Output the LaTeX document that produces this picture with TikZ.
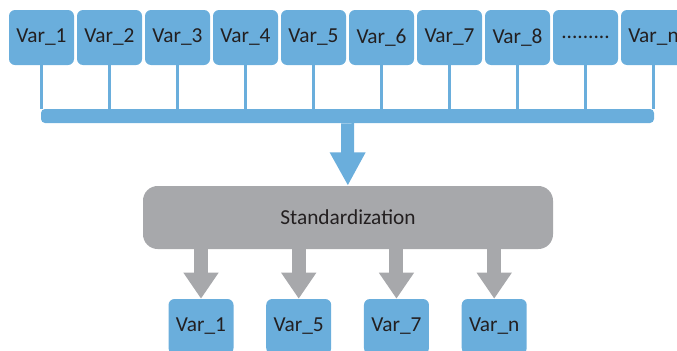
\documentclass[tikz,border=0pt]{standalone}
\usepackage{tikz}
\usetikzlibrary{arrows.meta,positioning}
\usepackage{fontspec}
\setmainfont{Carlito}
\usepackage{xcolor}
\definecolor{varblue}{RGB}{106,174,220}
\definecolor{stdgray}{RGB}{167,168,171}
\definecolor{txtgray}{RGB}{35,31,32}

\begin{document}
\begin{tikzpicture}[x=0.75pt,y=-0.75pt,node distance=51pt,on grid,
		varbox/.style={fill=varblue,rounded corners=4.5pt,minimum width=48.75pt,minimum height=41.25pt,inner sep=0pt,text=txtgray,font=\fontsize{16}{19}\selectfont}]
		\useasboundingbox (0,0) rectangle (677,350);
		\clip (0,0) rectangle (677,350);
		  \node[varbox]          (1) at (41.5,37.5)   {Var\_1};
		  \node[varbox]          (2) [right =of 1]    {Var\_2};
		  \node[varbox]          (3) [right =of 2]    {Var\_3};
		  \node[varbox]          (4) [right =of 3]    {Var\_4};
		  \node[varbox]          (5) [right =of 4]    {Var\_5};
		  \node[varbox]          (6) [right =of 5]    {Var\_6};
		  \node[varbox]          (7) [right =of 6]    {Var\_7};
		  \node[varbox]          (8) [right =of 7]    {Var\_8};
		  \node[varbox]          (9) [right =of 8]    {.........};
		  \node[varbox]          (n) [right =of 9]    {Var\_n};
		  \node[fill=varblue,rounded corners=3pt,minimum width=459.75pt,minimum height=10.5pt,inner sep=0pt] (bar) at (347.5,116) {};
		  \node[fill=stdgray,rounded corners=11pt,minimum width=307.5pt,minimum height=47.25pt,text=txtgray,font=\fontsize{16}{19}\selectfont] (std) at (348,217.5) {Standardization};
		  \node[varbox]          (o1) at (201,326.5)   {Var\_1};
		  \node[varbox]          (o5) [right =73.3pt of o1]    {Var\_5};
		  \node[varbox]          (o7) [right =73.3pt of o5]    {Var\_7};
		  \node[varbox]          (on) [right =73.3pt of o7]    {Var\_n};

		\tikzset{mystyle/.style={-,draw=varblue,line width=2.25pt}}
		\path (1)     edge [mystyle]    (1 |- bar.north)
			  (2)     edge [mystyle]    (2 |- bar.north)
			  (3)     edge [mystyle]    (3 |- bar.north)
			  (4)     edge [mystyle]    (4 |- bar.north)
			  (5)     edge [mystyle]    (5 |- bar.north)
			  (6)     edge [mystyle]    (6 |- bar.north)
			  (7)     edge [mystyle]    (7 |- bar.north)
			  (8)     edge [mystyle]    (8 |- bar.north)
			  (9)     edge [mystyle]    (9 |- bar.north)
			  (n)     edge [mystyle]    (n |- bar.north);

		\tikzset{mystyle/.style={-{Triangle[length=25pt,width=25pt]},draw=varblue,fill=varblue,line width=9.75pt}}
			\path (bar)     edge [mystyle]   (std);
		\tikzset{mystyle/.style={-{Triangle[length=19.5pt,width=25pt]},draw=stdgray,fill=stdgray,line width=10.5pt}}
			\path (std.south -| o1)     edge [mystyle]   (o1)
				  (std.south -| o5)     edge [mystyle]   (o5)
				  (std.south -| o7)     edge [mystyle]   (o7)
				  (std.south -| on)     edge [mystyle]   (on);
	\end{tikzpicture}
\end{document}
